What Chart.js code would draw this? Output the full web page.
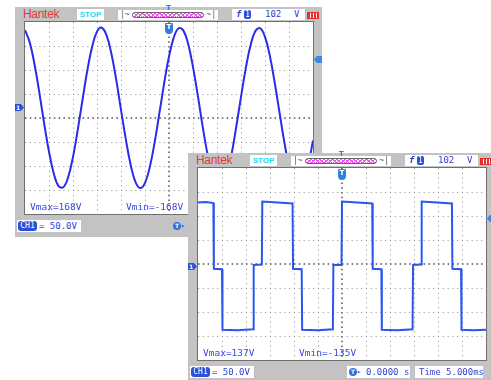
<!DOCTYPE html>
<html>
<head>
<meta charset="utf-8">
<script src="https://cdn.jsdelivr.net/npm/chart.js@4.4.1/dist/chart.umd.min.js"></script>
<style>
  body { margin: 0; width: 491px; height: 380px; overflow: hidden; background: #fff; position: relative; }
  .scope { position: absolute; width: 307px; height: 230px; background: #c3c3c3; font-family: "DejaVu Sans Mono", monospace; color: #3340d8; }
  .plot { position: absolute; left: 10px; top: 15px; width: 288px; height: 192px; background: #fff; box-shadow: 0 0 0 1px #707070; }
  .plot canvas { position: absolute; left: 0; top: 0; }
  .brand { position: absolute; left: 8px; top: 1px; font: 12px "Liberation Sans", Arial, sans-serif; color: #e23a3a; line-height: 13px; letter-spacing: -0.3px; }
  .box { position: absolute; background: #fff; height: 11px; top: 2px; line-height: 11px; font-size: 9px; white-space: nowrap; }
  .stop { left: 62px; width: 27px; text-align: center; color: #1fd8f2; font: bold 8px "Liberation Sans", sans-serif; line-height: 11px; }
  .mem { left: 103px; width: 100px; top: 3px; height: 10px; }
  .mem .bar { position: absolute; left: 14px; right: 14px; top: 2px; height: 4px; border: 1px solid #666; border-radius: 3px;
    background: repeating-linear-gradient(45deg, #ee55ee 0 1px, transparent 1px 3px), repeating-linear-gradient(-45deg, #ee55ee 0 1px, #fff 1px 3px); }
  .mem .end { position: absolute; top: -1px; font-size: 8px; color: #555; }
  .trig { left: 217px; width: 73px; }
  .trig span { position: absolute; top: 0; }
  .badge { background: #2a52d8; color: #fff; border-radius: 2px; font-size: 8px; line-height: 9px; height: 9px; top: 1px !important; padding: 0 1px; }
  .batt { position: absolute; left: 292px; top: 5px; width: 10px; height: 5px; border: 1px solid #e03030; background: repeating-linear-gradient(90deg, #e03030 0 2px, #fff 2px 3px); }
  .tmark { position: absolute; width: 8px; height: 11px; top: 1px; left: 140px; background: #2f7fe0; border-radius: 1px 1px 4px 4px; color: #fff; font: bold 7px "DejaVu Sans", sans-serif; text-align: center; line-height: 9px; z-index: 2; }
  .ttop { position: absolute; left: 151px; top: -3px; font: bold 7px "DejaVu Sans", sans-serif; color: #2f7fe0; }
  .chmark { position: absolute; left: 0; width: 9px; height: 7px; background: #2850e0; color: #fff; font: bold 6px "DejaVu Sans", sans-serif; line-height: 7px; padding-left: 1px; box-sizing: border-box;
    clip-path: polygon(0 0, 65% 0, 100% 50%, 65% 100%, 0 100%); }
  .lvmark { position: absolute; left: 299px; width: 8px; height: 7px; background: #3a8ae8;
    clip-path: polygon(35% 0, 100% 0, 100% 100%, 35% 100%, 0 50%); }
  .meas { position: absolute; top: 180px; font-size: 9.5px; line-height: 10px; z-index: 2; color: #3a48e0; }
  .foot { top: 213px; height: 12px; line-height: 12px; }
  .foot .badge { position: absolute; left: 1px; top: 1px !important; height: 10px; line-height: 10px; width: 17px; text-align: center; border-radius: 3px; }
  .ticon { display: inline-block; width: 8px; height: 8px; border-radius: 50%; background: #2f6fe0; color: #fff; font: bold 6px "DejaVu Sans", sans-serif; line-height: 8px; text-align: center; vertical-align: top; }
  .arrow { font-size: 7px; color: #2f6fe0; vertical-align: top; line-height: 8px; }
</style>
</head>
<body>

<div class="scope" id="scope1" style="left:15px; top:7px; z-index:1;">
  <div class="brand">Hantek</div>
  <div class="box stop">STOP</div>
  <div class="box mem"><span class="end" style="left:2px">|~</span><div class="bar"></div><span class="end" style="right:2px">~|</span></div>
  <div class="ttop">T</div>
  <div class="box trig"><span style="left:4px; font-style:italic; font-weight:bold;">f</span><span class="badge" style="left:12px">1</span><span style="left:33px">102</span><span style="left:62px">V</span></div>
  <div class="batt"></div>
  <div class="chmark" style="top:97px">1</div>
  <div class="lvmark" style="top:49px"></div>
  <div class="plot">
    <canvas id="sineChart" width="288" height="192"></canvas>
    <div class="tmark">T</div>
    <div class="meas" style="left:5px">Vmax=168V</div>
    <div class="meas" style="left:101px">Vmin=-168V</div>
  </div>
  <div class="box foot" style="left:2px; width:64px;"><span class="badge">CH1</span><span style="position:absolute; left:22px">= 50.0V</span></div>
  <div style="position:absolute; left:158px; top:215px; height:8px; line-height:8px;"><span class="ticon">T</span><span class="arrow">&#9656;</span></div>
</div>

<div class="scope" id="scope2" style="left:188px; top:153px; z-index:2;">
  <div class="brand">Hantek</div>
  <div class="box stop">STOP</div>
  <div class="box mem"><span class="end" style="left:2px">|~</span><div class="bar"></div><span class="end" style="right:2px">~|</span></div>
  <div class="ttop">T</div>
  <div class="box trig"><span style="left:4px; font-style:italic; font-weight:bold;">f</span><span class="badge" style="left:12px">1</span><span style="left:33px">102</span><span style="left:62px">V</span></div>
  <div class="batt"></div>
  <div class="chmark" style="top:110px">1</div>
  <div class="lvmark" style="top:62px"></div>
  <div class="plot">
    <canvas id="squareChart" width="288" height="192"></canvas>
    <div class="tmark">T</div>
    <div class="meas" style="left:5px">Vmax=137V</div>
    <div class="meas" style="left:101px">Vmin=-135V</div>
  </div>
  <div class="box foot" style="left:2px; width:64px;"><span class="badge">CH1</span><span style="position:absolute; left:22px">= 50.0V</span></div>
  <div class="box foot" style="left:159px; width:63px;"><span style="position:absolute; left:2px; top:2px; height:8px; line-height:8px;"><span class="ticon">T</span><span class="arrow">&#9656;</span></span><span style="position:absolute; left:19px">0.0000 s</span></div>
  <div class="box foot" style="left:227px; width:68px;"><span style="position:absolute; left:4px">Time 5.000ms</span></div>
</div>

<script>
// time base 5 ms/div, 12 divisions; vertical 50 V/div, 8 divisions
const msPerDiv = 5;
const voltsPerDiv = 50;

// screen 1: sine wave, sampled every 1 ms (ms, V)
const sineTime = [0, 1, 2, 3, 4, 5, 6, 7, 8, 9, 10, 11, 12, 13, 14, 15, 16, 17, 18, 19, 20,
  21, 22, 23, 24, 25, 26, 27, 28, 29, 30, 31, 32, 33, 34, 35, 36, 37, 38, 39, 40,
  41, 42, 43, 44, 45, 46, 47, 48, 49, 50, 51, 52, 53, 54, 55, 56, 57, 58, 59, 60];
const sineVolts = [162, 136, 90, 31, -33, -91, -137, -163, -165, -144, -102,
  -45, 18, 79, 128, 159, 167, 151, 113, 59, -4,
  -65, -118, -154, -167, -156, -123, -72, -11, 52, 107,
  147, 166, 161, 133, 85, 26, -38, -95, -140, -164,
  -164, -141, -98, -40, 23, 83, 131, 160, 166, 148,
  109, 54, -8, -70, -121, -155, -167, -155, -120, -68];
const sineCenter = -21;   // volts at the middle graticule line (channel offset)

// screen 2: stepped square wave (ms, V)
const squareTime = [0, 1.6, 3.2, 3.3, 5.0, 5.1, 8.3, 11.5, 11.6, 13.3,
  13.4, 16.6, 19.7, 19.8, 21.6, 21.7, 25.0, 28.1, 28.2, 29.9,
  30.0, 33.2, 36.3, 36.4, 38.2, 38.3, 41.6, 44.7, 44.8, 46.5,
  46.6, 49.8, 52.9, 53.0, 54.8, 54.9, 57.5, 60];
const squareVolts = [133, 134, 132, -5, -6, -132, -133, -131, 3, 4,
  135, 133, 131, -5, -6, -132, -133, -131, 3, 3,
  135, 133, 131, -5, -6, -132, -133, -131, 3, 4,
  135, 133, 131, -5, -6, -132, -133, -132];
const squareCenter = 5;

function scopeChart(canvasId, times, volts, center, color, tension) {
  const xMin = 0, xMax = msPerDiv * 12;
  const yMin = center - voltsPerDiv * 4, yMax = center + voltsPerDiv * 4;

  const isEdge = (v, lo, hi) => Math.abs(v - lo) < 1e-6 || Math.abs(v - hi) < 1e-6;
  const gridFor = (lo, hi, mid) => ({
    drawTicks: false,
    color: ctx => {
      const v = ctx.tick ? ctx.tick.value : 0;
      if (isEdge(v, lo, hi)) return 'rgba(0,0,0,0)';
      return Math.abs(v - mid) < 1e-6 ? '#7a7a7a' : '#8a8a8a';
    },
    lineWidth: ctx => (ctx.tick && Math.abs(ctx.tick.value - mid) < 1e-6) ? 2 : 1
  });
  const borderFor = mid => ({
    display: false,
    dash: ctx => (ctx.tick && Math.abs(ctx.tick.value - mid) < 1e-6) ? [1.5, 3.3] : [1, 3.8]
  });

  return new Chart(document.getElementById(canvasId), {
    type: 'line',
    data: {
      datasets: [{
        data: times.map((t, i) => ({ x: t, y: volts[i] })),
        borderColor: color,
        borderWidth: 2,
        pointRadius: 0,
        tension: tension,
        fill: false
      }]
    },
    options: {
      responsive: false,
      animation: false,
      devicePixelRatio: 1,
      layout: { padding: 0 },
      plugins: { legend: { display: false }, tooltip: { enabled: false } },
      scales: {
        x: {
          type: 'linear', min: xMin, max: xMax,
          ticks: { display: false, stepSize: msPerDiv },
          grid: gridFor(xMin, xMax, msPerDiv * 6),
          border: borderFor(msPerDiv * 6)
        },
        y: {
          type: 'linear', min: yMin, max: yMax,
          ticks: { display: false },
          afterBuildTicks: scale => {
            const t = [];
            for (let k = -4; k <= 4; k++) t.push({ value: center + k * voltsPerDiv });
            scale.ticks = t;
          },
          grid: gridFor(yMin, yMax, center),
          border: borderFor(center)
        }
      }
    }
  });
}

scopeChart('sineChart', sineTime, sineVolts, sineCenter, '#2b2bec', 0.4);
scopeChart('squareChart', squareTime, squareVolts, squareCenter, '#2a56f0', 0);
</script>
</body>
</html>
